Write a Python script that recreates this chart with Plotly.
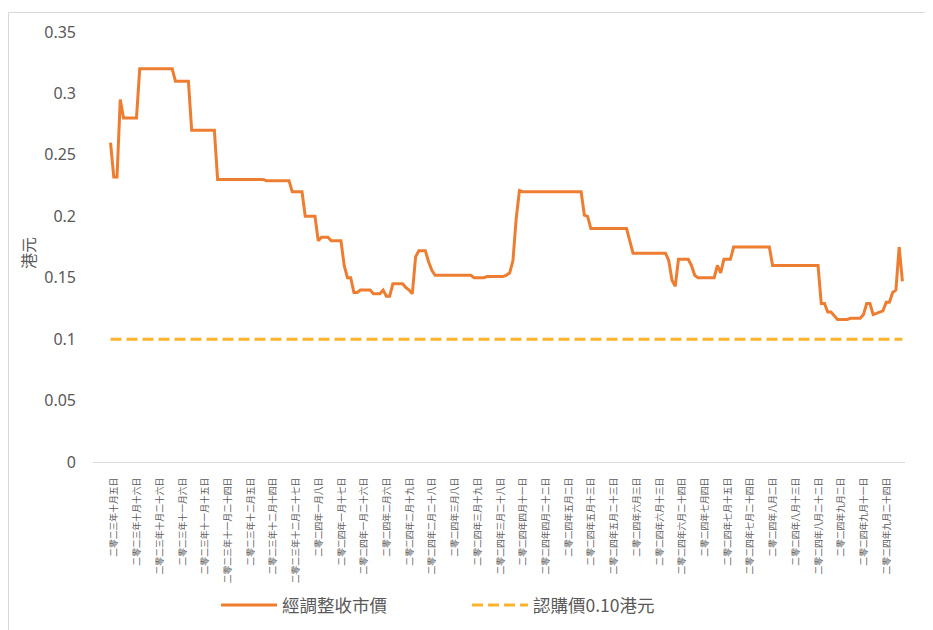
import plotly.graph_objects as go

# Adjusted closing price (HKD), one value per trading day
adjusted_close = [
    0.26, 0.232, 0.232, 0.295,
    0.28, 0.28, 0.28, 0.28, 0.28,
    0.32, 0.32, 0.32, 0.32, 0.32, 0.32, 0.32, 0.32, 0.32, 0.32, 0.32,
    0.31, 0.31, 0.31, 0.31, 0.31,
    0.27, 0.27, 0.27, 0.27, 0.27, 0.27, 0.27, 0.27,
    0.23, 0.23, 0.23, 0.23, 0.23, 0.23, 0.23, 0.23, 0.23, 0.23, 0.23, 0.23, 0.23, 0.23, 0.23,
    0.229, 0.229, 0.229, 0.229, 0.229, 0.229, 0.229, 0.229,
    0.22, 0.22, 0.22, 0.22,
    0.20, 0.20, 0.20, 0.20,
    0.18, 0.183, 0.183, 0.183,
    0.18, 0.18, 0.18, 0.18,
    0.16, 0.15, 0.15, 0.138, 0.138,
    0.14, 0.14, 0.14, 0.14,
    0.137, 0.137, 0.137, 0.14, 0.135, 0.135,
    0.145, 0.145, 0.145, 0.145,
    0.142, 0.14, 0.137, 0.167,
    0.172, 0.172, 0.172, 0.163, 0.156,
    0.152, 0.152, 0.152, 0.152, 0.152, 0.152, 0.152, 0.152, 0.152, 0.152, 0.152, 0.152,
    0.150, 0.150, 0.150, 0.150,
    0.151, 0.151, 0.151, 0.151, 0.151, 0.151,
    0.152, 0.154, 0.164, 0.198, 0.221,
    0.22, 0.22, 0.22, 0.22, 0.22, 0.22, 0.22, 0.22, 0.22, 0.22,
    0.22, 0.22, 0.22, 0.22, 0.22, 0.22, 0.22, 0.22, 0.22,
    0.201, 0.20,
    0.19, 0.19, 0.19, 0.19, 0.19, 0.19, 0.19, 0.19, 0.19, 0.19, 0.19, 0.19,
    0.18,
    0.17, 0.17, 0.17, 0.17, 0.17, 0.17, 0.17, 0.17, 0.17, 0.17, 0.17,
    0.164, 0.148, 0.143,
    0.165, 0.165, 0.165, 0.165,
    0.16, 0.152,
    0.15, 0.15, 0.15, 0.15, 0.15, 0.15,
    0.16, 0.154,
    0.165, 0.165, 0.165,
    0.175, 0.175, 0.175, 0.175, 0.175, 0.175, 0.175, 0.175, 0.175, 0.175, 0.175, 0.175,
    0.16, 0.16, 0.16, 0.16, 0.16, 0.16, 0.16, 0.16, 0.16, 0.16, 0.16, 0.16, 0.16, 0.16, 0.16,
    0.129, 0.129, 0.122, 0.122, 0.119,
    0.116, 0.116, 0.116, 0.116,
    0.117, 0.117, 0.117, 0.117,
    0.12, 0.129, 0.129, 0.12, 0.121, 0.122, 0.123,
    0.13, 0.13, 0.138, 0.14, 0.175, 0.147,
]
assert len(adjusted_close) == 245, len(adjusted_close)

strike_price = 0.10

# Category axis labels (every 7th trading day)
tick_labels = [
    "二零二三年十月五日", "二零二三年十月十六日", "二零二三年十月二十六日",
    "二零二三年十一月六日", "二零二三年十一月十五日", "二零二三年十一月二十四日",
    "二零二三年十二月五日", "二零二三年十二月十四日", "二零二三年十二月二十七日",
    "二零二四年一月八日", "二零二四年一月十七日", "二零二四年一月二十六日",
    "二零二四年二月六日", "二零二四年二月十九日", "二零二四年二月二十八日",
    "二零二四年三月八日", "二零二四年三月十九日", "二零二四年三月二十八日",
    "二零二四年四月十一日", "二零二四年四月二十二日",
    "二零二四年五月二日", "二零二四年五月十三日", "二零二四年五月二十三日",
    "二零二四年六月三日", "二零二四年六月十三日", "二零二四年六月二十四日",
    "二零二四年七月四日", "二零二四年七月十五日", "二零二四年七月二十四日",
    "二零二四年八月二日", "二零二四年八月十三日", "二零二四年八月二十二日",
    "二零二四年九月二日", "二零二四年九月十一日", "二零二四年九月二十四日",
]
label_step = 7

series_names = ["經調整收市價", "認購價0.10港元"]
y_ticks = [0, 0.05, 0.1, 0.15, 0.2, 0.25, 0.3, 0.35]
y_ticktext = ["0", "0.05", "0.1", "0.15", "0.2", "0.25", "0.3", "0.35"]

n = len(adjusted_close)
x_idx = list(range(n))
tick_pos = [i * label_step for i in range(len(tick_labels))]

# The page body adds an 8px offset; figure coordinates = screen - 8
OFF = 8
W, H = 933 - OFF, 630 - OFF
L, R, T, B = 93 - OFF, 905 - OFF, 32 - OFF, 462 - OFF
GRAY = "#595959"
CJK = "Noto Sans CJK TC"

fig = go.Figure()
fig.add_trace(go.Scatter(
    x=x_idx, y=adjusted_close, mode="lines", name=series_names[0],
    line=dict(color="#ED7D31", width=3),
))
fig.add_trace(go.Scatter(
    x=[x_idx[0], x_idx[-1]], y=[strike_price, strike_price], mode="lines",
    name=series_names[1],
    line=dict(color="#F9B42D", width=3, dash="11px,5px"),
))

def px_x(p):  # screen px -> paper
    return (p - OFF - L) / (R - L)

def px_y(p):
    return (B - (p - OFF)) / (B - T)

fig.update_layout(
    width=W, height=H,
    margin=dict(l=L, r=W - R, t=T, b=H - B, autoexpand=False),
    paper_bgcolor="white", plot_bgcolor="white",
    font=dict(family=CJK, color=GRAY),
    showlegend=True,
    legend=dict(
        orientation="h", x=px_x(216), y=px_y(605), xanchor="left", yanchor="middle",
        font=dict(family=CJK, size=17.5, color=GRAY),
        entrywidthmode="pixels", entrywidth=180, itemwidth=56,
        bgcolor="rgba(0,0,0,0)",
    ),
    xaxis=dict(
        range=[-5.4, 244.8], automargin=False,
        tickmode="array", tickvals=tick_pos, ticktext=tick_labels,
        tickangle=-90, ticks="", showgrid=False, zeroline=False,
        showline=True, linecolor="#d9d9d9", linewidth=1.3,
        tickfont=dict(family=CJK, size=8.8, color=GRAY),
        ticklabelstandoff=11, ticklabelshift=4,
        fixedrange=True,
    ),
    yaxis=dict(
        range=[0, 0.35], automargin=False,
        tickmode="array", tickvals=y_ticks, ticktext=y_ticktext,
        showgrid=False, zeroline=False, showline=False, ticks="",
        tickfont=dict(family="Noto Sans", size=16, color=GRAY),
        ticklabelstandoff=16,
        fixedrange=True,
    ),
    annotations=[dict(
        text="港元", x=px_x(28), y=px_y(253), xref="paper", yref="paper",
        showarrow=False, textangle=-90, font=dict(family=CJK, size=16, color=GRAY),
        xanchor="center", yanchor="middle",
    )],
    shapes=[dict(
        type="rect", xref="paper", yref="paper",
        x0=px_x(8.5), y0=px_y(700), x1=px_x(960), y1=px_y(12.5),
        line=dict(color="#d9d9d9", width=1), layer="below",
    )],
)

fig.write_html("out.html")
